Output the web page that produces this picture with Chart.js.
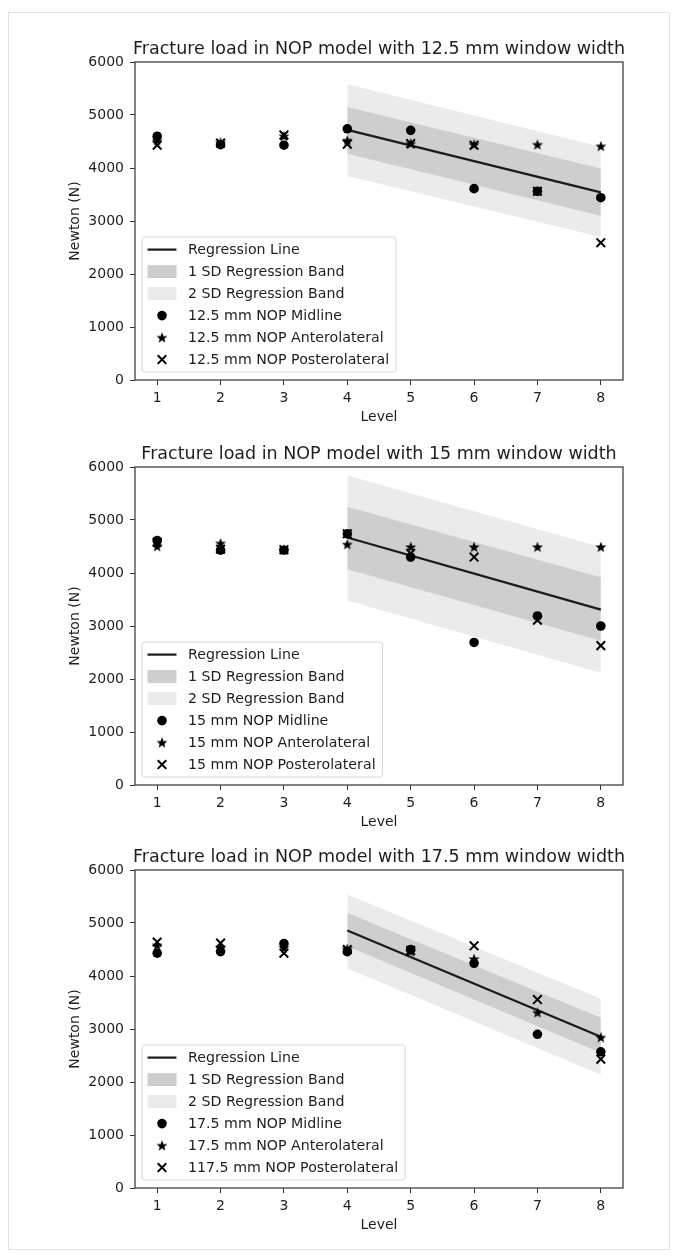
<!DOCTYPE html>
<html><head><meta charset="utf-8">
<script src="https://cdn.jsdelivr.net/npm/chart.js@4.4.0/dist/chart.umd.min.js"></script>
<style>
html,body{margin:0;padding:0;background:#fff;}
body{width:680px;height:1256px;position:relative;overflow:hidden;}
.frame{position:absolute;left:8px;top:12px;width:662px;height:1238px;border:1.5px solid #e2e2e2;box-sizing:border-box;}
.pc{position:absolute;left:0;width:680px;height:400px;}
canvas{display:block;}
</style></head><body>
<div class="frame"></div>
<div class="pc" style="top:30px"><canvas id="c1" width="680" height="400"></canvas></div>
<div class="pc" style="top:435px"><canvas id="c2" width="680" height="400"></canvas></div>
<div class="pc" style="top:838px"><canvas id="c3" width="680" height="400"></canvas></div>
<script>
// ---------- data ----------
const levels = [1, 2, 3, 4, 5, 6, 7, 8];
const regLevels = [4, 8];
const yTicks = [0, 1000, 2000, 3000, 4000, 5000, 6000];

const titles = [
  'Fracture load in NOP model with 12.5 mm window width',
  'Fracture load in NOP model with 15 mm window width',
  'Fracture load in NOP model with 17.5 mm window width'
];
const bandLabels = ['Regression Line', '1 SD Regression Band', '2 SD Regression Band'];
const seriesLabels12 = ['12.5 mm NOP Midline', '12.5 mm NOP Anterolateral', '12.5 mm NOP Posterolateral'];
const seriesLabels15 = ['15 mm NOP Midline', '15 mm NOP Anterolateral', '15 mm NOP Posterolateral'];
const seriesLabels17 = ['17.5 mm NOP Midline', '17.5 mm NOP Anterolateral', '117.5 mm NOP Posterolateral'];

// 12.5 mm
const mid12  = [4600, 4440, 4430, 4740, 4710, 3610, 3560, 3440];
const ant12  = [4520, 4480, 4600, 4520, 4460, 4440, 4440, 4410];
const post12 = [4430, 4470, 4620, 4450, 4460, 4430, 3560, 2590];
const reg12    = [4720, 3540];
const sd1Up12  = [5150, 3990];
const sd1Lo12  = [4270, 3100];
const sd2Up12  = [5580, 4400];
const sd2Lo12  = [3850, 2700];

// 15 mm
const mid15  = [4610, 4430, 4430, 4740, 4300, 2690, 3190, 3000];
const ant15  = [4500, 4560, 4440, 4540, 4490, 4490, 4490, 4490];
const post15 = [4580, 4450, 4440, 4740, 4370, 4300, 3110, 2630];
const reg15    = [4670, 3310];
const sd1Up15  = [5250, 3920];
const sd1Lo15  = [4070, 2720];
const sd2Up15  = [5840, 4490];
const sd2Lo15  = [3480, 2120];

// 17.5 mm
const mid17  = [4430, 4460, 4610, 4460, 4500, 4240, 2900, 2570];
const ant17  = [4580, 4540, 4530, 4510, 4460, 4320, 3310, 2840];
const post17 = [4640, 4620, 4430, 4500, 4480, 4570, 3555, 2430];
const reg17    = [4860, 2855];
const sd1Up17  = [5190, 3210];
const sd1Lo17  = [4560, 2550];
const sd2Up17  = [5540, 3570];
const sd2Lo17  = [4140, 2140];

// ---------- style ----------
const FONT = '"DejaVu Sans", sans-serif';
const TXT = '#1e1e1e';
const AX = '#333333';
const C_SD1 = '#cecece';
const C_SD2 = '#ebebeb';

function makeStar(R) {
  const c = document.createElement('canvas');
  const s = Math.ceil(R * 2 + 2);
  c.width = s; c.height = s;
  const g = c.getContext('2d');
  g.translate(s / 2, s / 2 + 0.4);
  g.beginPath();
  for (let i = 0; i < 10; i++) {
    const r = i % 2 ? R * 0.42 : R;
    const a = -Math.PI / 2 + i * Math.PI / 5;
    g.lineTo(r * Math.cos(a), r * Math.sin(a));
  }
  g.closePath();
  g.fillStyle = '#000';
  g.fill();
  return c;
}
const STAR = makeStar(5.8);

function pts(xs, ys) { return xs.map((x, i) => ({x: x, y: ys[i]})); }

function drawMarker(ctx, kind, x, y) {
  ctx.save();
  if (kind === 'circle') {
    ctx.fillStyle = '#000';
    ctx.beginPath(); ctx.arc(x, y, 4.8, 0, Math.PI * 2); ctx.fill();
  } else if (kind === 'star') {
    ctx.drawImage(STAR, x - STAR.width / 2, y - STAR.height / 2);
  } else if (kind === 'x') {
    ctx.strokeStyle = '#000'; ctx.lineWidth = 2;
    const d = 4.3;
    ctx.beginPath();
    ctx.moveTo(x - d, y - d); ctx.lineTo(x + d, y + d);
    ctx.moveTo(x + d, y - d); ctx.lineTo(x - d, y + d);
    ctx.stroke();
  }
  ctx.restore();
}

const framePlugin = {
  id: 'frameLegend',
  afterDatasetsDraw(chart) {
    const {ctx, chartArea: a} = chart;
    ctx.save();
    ctx.strokeStyle = AX; ctx.lineWidth = 1.2;
    ctx.strokeRect(a.left, a.top, a.right - a.left, a.bottom - a.top);
    ctx.restore();
  },
  afterDraw(chart) {
    const {ctx, chartArea: a} = chart;
    const opts = chart.options.plugins.frameLegend;
    // title, centred over the axes
    ctx.save();
    ctx.font = '17.5px ' + FONT;
    ctx.fillStyle = TXT;
    ctx.textAlign = 'center';
    ctx.textBaseline = 'alphabetic';
    ctx.fillText(opts.title, (a.left + a.right) / 2, a.top - 8.5);
    ctx.restore();

    const ds = chart.data.datasets;
    const items = opts.legendOrder.map(i => ds[i]);
    const fs = 14.2;
    ctx.save();
    ctx.font = fs + 'px ' + FONT;
    const maxW = Math.max(...items.map(d => ctx.measureText(d.label).width));
    const pitch = 22;
    const boxH = items.length * pitch + 3;
    const x0 = a.left + 7;
    const y1 = a.bottom - 8;
    const y0 = y1 - boxH;
    const textX = x0 + 46;
    const boxW = 46 + maxW + 7;
    const r = 3;
    ctx.beginPath();
    ctx.moveTo(x0 + r, y0);
    ctx.lineTo(x0 + boxW - r, y0); ctx.quadraticCurveTo(x0 + boxW, y0, x0 + boxW, y0 + r);
    ctx.lineTo(x0 + boxW, y1 - r); ctx.quadraticCurveTo(x0 + boxW, y1, x0 + boxW - r, y1);
    ctx.lineTo(x0 + r, y1); ctx.quadraticCurveTo(x0, y1, x0, y1 - r);
    ctx.lineTo(x0, y0 + r); ctx.quadraticCurveTo(x0, y0, x0 + r, y0);
    ctx.closePath();
    ctx.fillStyle = 'rgba(255,255,255,0.85)';
    ctx.fill();
    ctx.strokeStyle = '#d6d6d6'; ctx.lineWidth = 1;
    ctx.stroke();
    items.forEach((d, i) => {
      const cy = y0 + 12.6 + i * pitch;
      const hx0 = x0 + 5.5, hx1 = x0 + 34.5, hc = x0 + 20;
      if (d.legendKind === 'line') {
        ctx.strokeStyle = d.borderColor; ctx.lineWidth = 2.2;
        ctx.beginPath(); ctx.moveTo(hx0, cy); ctx.lineTo(hx1, cy); ctx.stroke();
      } else if (d.legendKind === 'patch') {
        ctx.fillStyle = d.backgroundColor;
        ctx.fillRect(hx0, cy - 6.5, hx1 - hx0, 13);
      } else {
        drawMarker(ctx, d.legendKind, hc, cy);
      }
      ctx.fillStyle = TXT;
      ctx.textBaseline = 'middle';
      ctx.textAlign = 'left';
      ctx.fillText(d.label, textX, cy + 0.5);
    });
    ctx.restore();
  }
};

function buildChart(id, title, sLabels, mid, ant, post, reg, s1u, s1l, s2u, s2l) {
  const lineBase = {showLine: true, pointRadius: 0, pointHoverRadius: 0, borderWidth: 0, tension: 0};
  const datasets = [
    Object.assign({}, lineBase, {label: '2sd-lower', data: pts(regLevels, s2l), borderColor: 'rgba(0,0,0,0)', fill: false, order: 5}),
    Object.assign({}, lineBase, {label: bandLabels[2], legendKind: 'patch', data: pts(regLevels, s2u), borderColor: 'rgba(0,0,0,0)', backgroundColor: C_SD2, fill: 0, order: 4}),
    Object.assign({}, lineBase, {label: '1sd-lower', data: pts(regLevels, s1l), borderColor: 'rgba(0,0,0,0)', fill: false, order: 3}),
    Object.assign({}, lineBase, {label: bandLabels[1], legendKind: 'patch', data: pts(regLevels, s1u), borderColor: 'rgba(0,0,0,0)', backgroundColor: C_SD1, fill: 2, order: 2}),
    Object.assign({}, lineBase, {label: bandLabels[0], legendKind: 'line', data: pts(regLevels, reg), borderColor: '#1a1a1a', borderWidth: 2.2, fill: false, order: 1}),
    {label: sLabels[2], legendKind: 'x', data: pts(levels, post), showLine: false, pointStyle: 'crossRot', pointRadius: 6.1, pointBorderWidth: 2, pointBorderColor: '#000', pointBackgroundColor: '#000', order: 0},
    {label: sLabels[1], legendKind: 'star', data: pts(levels, ant), showLine: false, pointStyle: STAR, pointRadius: 5.8, order: 0},
    {label: sLabels[0], legendKind: 'circle', data: pts(levels, mid), showLine: false, pointStyle: 'circle', pointRadius: 4.8, pointBorderWidth: 0, pointBackgroundColor: '#000', pointBorderColor: '#000', order: 0}
  ];
  return new Chart(document.getElementById(id), {
    type: 'scatter',
    data: {datasets: datasets},
    options: {
      responsive: false,
      animation: false,
      devicePixelRatio: 1,
      layout: {padding: {left: 0, right: 57, top: 32, bottom: 0}},
      plugins: {
        legend: {display: false},
        tooltip: {enabled: false},
        title: {display: false},
        frameLegend: {title: title, legendOrder: [4, 3, 1, 7, 6, 5]}
      },
      scales: {
        x: {
          type: 'linear', min: 0.65, max: 8.35,
          afterBuildTicks: s => { s.ticks = levels.map(v => ({value: v})); },
          afterFit: s => { s.height = 50; },
          grid: {drawOnChartArea: false, drawTicks: true, tickLength: 5, color: AX, lineWidth: 1},
          border: {display: false},
          ticks: {padding: 5, color: TXT, font: {family: FONT, size: 14}, maxRotation: 0, autoSkip: false, callback: v => String(v)},
          title: {display: true, text: 'Level', color: TXT, font: {family: FONT, size: 14}, padding: {top: 0, bottom: 3.8}}
        },
        y: {
          type: 'linear', min: 0, max: 6000,
          afterBuildTicks: s => { s.ticks = yTicks.map(v => ({value: v})); },
          afterFit: s => { s.width = 135; },
          grid: {drawOnChartArea: false, drawTicks: true, tickLength: 5, color: AX, lineWidth: 1},
          border: {display: false},
          ticks: {padding: 6, color: TXT, font: {family: FONT, size: 14}, callback: v => String(v)},
          title: {display: true, text: 'Newton (N)', color: TXT, font: {family: FONT, size: 14}, padding: {top: 66.6, bottom: 0}}
        }
      }
    },
    plugins: [framePlugin]
  });
}

const charts = [
  buildChart('c1', titles[0], seriesLabels12, mid12, ant12, post12, reg12, sd1Up12, sd1Lo12, sd2Up12, sd2Lo12),
  buildChart('c2', titles[1], seriesLabels15, mid15, ant15, post15, reg15, sd1Up15, sd1Lo15, sd2Up15, sd2Lo15),
  buildChart('c3', titles[2], seriesLabels17, mid17, ant17, post17, reg17, sd1Up17, sd1Lo17, sd2Up17, sd2Lo17)
];
</script>
</body></html>
